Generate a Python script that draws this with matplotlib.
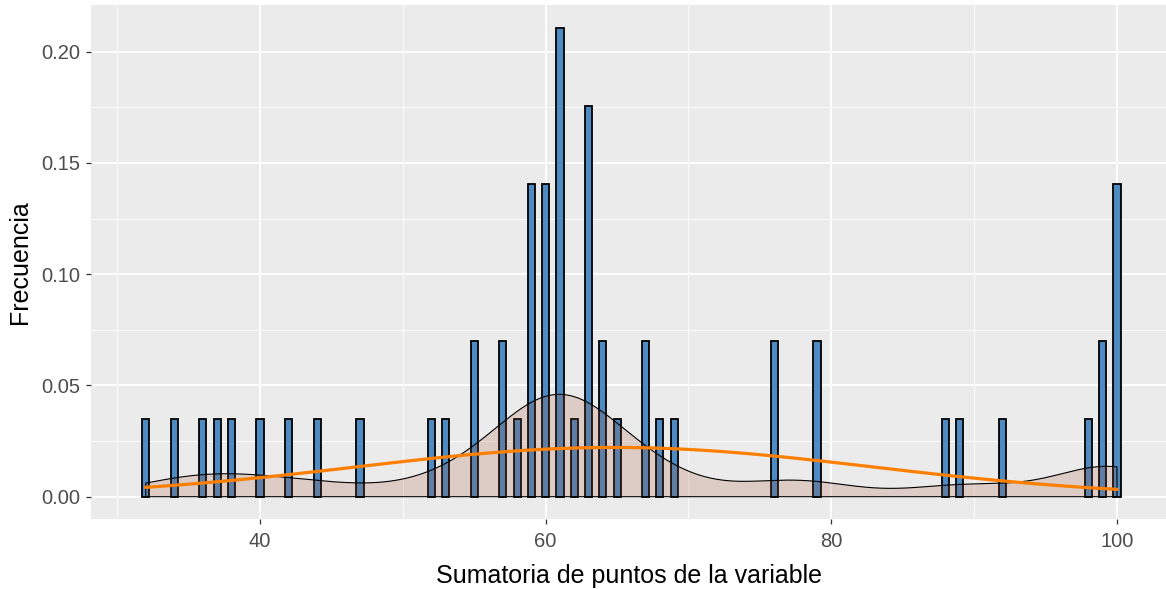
import numpy as np
import matplotlib
matplotlib.use("Agg")
import matplotlib.pyplot as plt
from matplotlib.ticker import MultipleLocator

# Scores observed and how many times each occurs
scores = [32, 34, 36, 37, 38, 40, 42, 44, 47, 52, 53, 55, 57, 58, 59, 60, 61, 62,
          63, 64, 65, 67, 68, 69, 76, 79, 88, 89, 92, 98, 99, 100]
counts = [1, 1, 1, 1, 1, 1, 1, 1, 1, 1, 1, 2, 2, 1, 4, 4, 6, 1,
          5, 2, 1, 2, 1, 1, 2, 2, 1, 1, 1, 1, 2, 4]

x_ticks = [40, 60, 80, 100]
y_ticks = [0.00, 0.05, 0.10, 0.15, 0.20]
x_label = "Sumatoria de puntos de la variable"
y_label = "Frecuencia"

binwidth = 0.5
raw = np.repeat(np.array(scores, dtype=float), counts)
n = raw.size
bar_heights = np.array(counts) / (n * binwidth)

# Gaussian kernel density with R's bw.nrd0 bandwidth
sd = raw.std(ddof=1)
q75, q25 = np.percentile(raw, [75, 25])
bw = 0.9 * min(sd, (q75 - q25) / 1.34) * n ** (-0.2)
kx = np.linspace(raw.min(), raw.max(), 512)
kde = np.exp(-0.5 * ((kx[:, None] - raw[None, :]) / bw) ** 2).sum(axis=1) / (n * bw * np.sqrt(2 * np.pi))

# Normal curve with the sample mean and standard deviation
mu = raw.mean()
nx = np.linspace(raw.min(), raw.max(), 101)
norm = np.exp(-0.5 * ((nx - mu) / sd) ** 2) / (sd * np.sqrt(2 * np.pi))

W, H = 1166, 589
fig = plt.figure(figsize=(W / 100, H / 100), dpi=100)
ax = fig.add_axes([91 / W, (H - 519) / H, (W - 91) / W, (519 - 5) / H])
ax.set_facecolor("#EBEBEB")
for s in ax.spines.values():
    s.set_visible(False)

ax.bar(scores, bar_heights, width=binwidth, color="#4E8BC3", edgecolor="black",
       linewidth=1.3, zorder=2)

poly_x = np.concatenate([[kx[0]], kx, [kx[-1]]])
poly_y = np.concatenate([[0], kde, [0]])
ax.fill(poly_x, poly_y, facecolor="sienna", alpha=0.2, zorder=3)
ax.plot(np.append(poly_x, poly_x[0]), np.append(poly_y, poly_y[0]),
        color="black", linewidth=0.8, zorder=3.5)

ax.plot(nx, norm, color="#FF7F00", linewidth=2.3, zorder=4)

ax.set_xlim(40 - 169 / 14.283, 40 + (W - 260) / 14.283)
ax.set_ylim(-(519 - 496.7) / 2225, (496.7 - 5) / 2225)

ax.set_xticks(x_ticks)
ax.set_yticks(y_ticks)
ax.set_yticklabels([f"{v:.2f}" for v in y_ticks])
ax.xaxis.set_minor_locator(MultipleLocator(10))
ax.yaxis.set_minor_locator(MultipleLocator(0.025))
ax.grid(which="major", color="white", linewidth=1.3, zorder=0)
ax.grid(which="minor", color="white", linewidth=0.6, zorder=0)
ax.set_axisbelow(True)
ax.tick_params(which="major", length=3.5, width=0.9, color="#333333",
               labelcolor="#4D4D4D", labelsize=14.5)
ax.tick_params(axis="x", which="major", pad=6)
ax.tick_params(axis="y", which="major", pad=4)
ax.tick_params(which="minor", length=0)
for lab in ax.get_xticklabels() + ax.get_yticklabels():
    lab.set_family("Liberation Sans")

ax.set_xlabel(x_label, fontsize=18, family="Liberation Sans", color="black", labelpad=9)
ax.set_ylabel(y_label, fontsize=18, family="Liberation Sans", color="black", labelpad=7)

fig.savefig("out.png", dpi=100)
